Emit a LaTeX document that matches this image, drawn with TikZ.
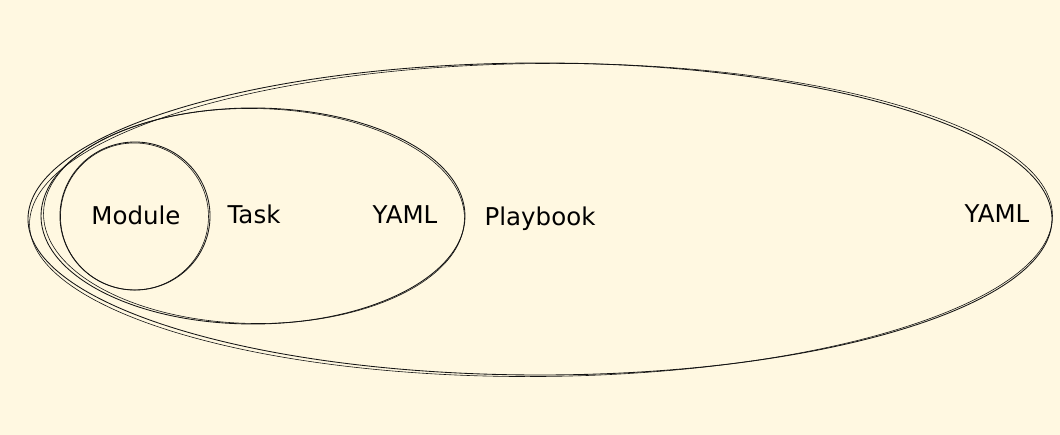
\documentclass[tikz,border=0pt]{standalone}
\usepackage{fontspec}
\setmainfont{DejaVu Sans}
\usetikzlibrary{shapes.geometric}
\definecolor{bgcream}{RGB}{255,248,225}
\definecolor{ink}{RGB}{20,20,20}
\tikzset{
  ring/.style={draw=ink, line width=0.85pt, ellipse, inner sep=0pt},
  ringtwo/.style={draw=ink, line width=0.6pt},
  lbl/.style={font=\fontsize{24.5}{27}\selectfont, text=black, anchor=base, inner sep=0pt}
}
\begin{document}
\begin{tikzpicture}[x=1pt,y=-1pt]
\fill[bgcream] (0,0) rectangle (1060,435);
\useasboundingbox (0,0) rectangle (1060,435);
% Playbook ellipse
\node[ring, minimum width=1024pt, minimum height=312pt] (play) at (540,219) {};
\draw[ringtwo, rotate around={0.5:(541,220)}] (541,220) ellipse [x radius=511.5, y radius=156.5];
% Task ellipse
\node[ring, minimum width=424pt, minimum height=216pt] (task) at (253,216) {};
\draw[ringtwo, rotate around={-0.8:(254,216)}] (254,216) ellipse [x radius=210.5, y radius=107.5];
% Module circle
\node[ring, minimum width=150pt, minimum height=148pt] (mod) at (135,216) {};
\draw[ringtwo, rotate around={-3:(135,216)}] (134.5,216.5) ellipse [x radius=74, y radius=73.5];
% labels
\node[lbl] (tmod) at (136,225) {Module};
\node[lbl] (ttask) at (254,224) {Task};
\node[lbl] (tyaml1) at (405,224) {YAML};
\node[lbl] (tplay) at (540,226) {Playbook};
\node[lbl] (tyaml2) at (997,223) {YAML};
\end{tikzpicture}
\end{document}
